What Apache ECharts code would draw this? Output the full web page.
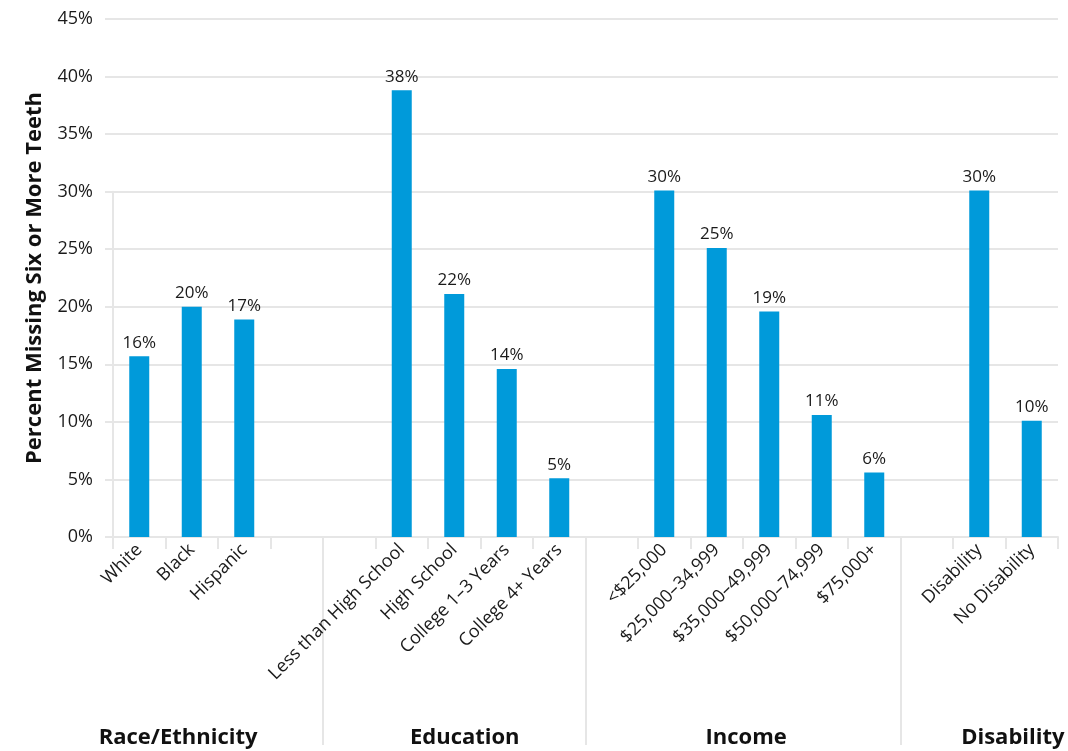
<!DOCTYPE html>
<html>
<head>
<meta charset="utf-8">
<script src="https://cdn.jsdelivr.net/npm/echarts@6/dist/echarts.min.js"></script>
<style>
  html, body { margin: 0; padding: 0; background: #fff; }
  #chart { width: 1068px; height: 751px; }
</style>
</head>
<body>
<div id="chart"></div>
<script>
// Categories (blank strings are spacer slots between groups)
const categories = [
  'White', 'Black', 'Hispanic', '', '',
  'Less than High School', 'High School', 'College 1\u20133 Years', 'College 4+ Years', '',
  '<$25,000', '$25,000\u201334,999', '$35,000\u201349,999', '$50,000\u201374,999', '$75,000+', '',
  'Disability', 'No Disability'
];
// Bar heights (percent)
const values = [
  15.7, 20.0, 18.9, null, null,
  38.8, 21.1, 14.6, 5.1, null,
  30.1, 25.1, 19.6, 10.6, 5.6, null,
  30.1, 10.1
];
// Printed value labels
const valueLabels = [
  '16%', '20%', '17%', '', '',
  '38%', '22%', '14%', '5%', '',
  '30%', '25%', '19%', '11%', '6%', '',
  '30%', '10%'
];
const groupNames = ['Race/Ethnicity', 'Education', 'Income', 'Disability'];
const yTicks = [0, 5, 10, 15, 20, 25, 30, 35, 40, 45];
const yTitle = 'Percent Missing Six or More Teeth';

const FONT = '"Open Sans", "Noto Sans", sans-serif';
const GRID = '#e6e6e6';
const groupLabelPos = [1.24, 6.7, 12.06, 17.14];
const groupBoundaries = [4, 9, 15];

const chart = echarts.init(document.getElementById('chart'), null, { renderer: 'canvas' });
chart.setOption({
  animation: false,
  backgroundColor: '#ffffff',
  textStyle: { fontFamily: FONT },
  grid: [
    { left: 113, right: 10, top: 19, bottom: 214, containLabel: false },
    // partial vertical rule seen at the left edge (from 30% down to the axis)
    { left: 113, right: 10, top: 191.7, bottom: 206, containLabel: false }
  ],
  xAxis: [
    {
      type: 'category',
      gridIndex: 0,
      data: categories,
      boundaryGap: true,
      axisLine: { show: true, lineStyle: { color: GRID, width: 2 } },
      axisTick: { show: true, interval: 0, length: 12, lineStyle: { color: GRID, width: 2 } },
      axisLabel: {
        interval: 0, rotate: 45, margin: 10,
        fontFamily: FONT, fontSize: 18, color: '#1a1a1a'
      },
      splitLine: { show: false }
    },
    {
      type: 'value',
      gridIndex: 0,
      min: 0, max: 18,
      position: 'bottom',
      axisLine: { show: false },
      axisTick: {
        show: true, length: 208, customValues: groupBoundaries,
        lineStyle: { color: GRID, width: 2 }
      },
      axisLabel: {
        show: true, customValues: groupLabelPos, margin: 190,
        fontFamily: FONT, fontSize: 22, fontWeight: 'bold', color: '#111',
        formatter: function (v) {
          const i = groupLabelPos.indexOf(v);
          return i >= 0 ? groupNames[i] : '';
        }
      },
      splitLine: { show: false }
    },
    {
      type: 'value', gridIndex: 1, min: 0, max: 1, show: false
    }
  ],
  yAxis: [
    {
      type: 'value',
      gridIndex: 0,
      min: yTicks[0], max: yTicks[yTicks.length - 1], interval: 5,
      name: yTitle,
      nameLocation: 'middle',
      nameGap: 67,
      nameRotate: 90,
      nameTextStyle: { fontFamily: FONT, fontSize: 22, fontWeight: 'bold', color: '#111' },
      axisLine: { show: false },
      axisTick: { show: true, length: 8, lineStyle: { color: GRID, width: 2 } },
      axisLabel: {
        fontFamily: FONT, fontSize: 18, color: '#1a1a1a', margin: 20,
        formatter: function (v) { return v + '%'; }
      },
      splitLine: { show: true, lineStyle: { color: GRID, width: 2 } }
    },
    {
      type: 'value', gridIndex: 1, min: 0, max: 1,
      axisLine: { show: true, lineStyle: { color: GRID, width: 2 } },
      axisTick: { show: false }, axisLabel: { show: false }, splitLine: { show: false }
    }
  ],
  series: [{
    type: 'bar',
    xAxisIndex: 0,
    yAxisIndex: 0,
    data: values,
    barWidth: 20,
    itemStyle: { color: '#009ADA' },
    label: {
      show: true, position: 'top', distance: 5,
      fontFamily: FONT, fontSize: 17, color: '#1a1a1a',
      formatter: function (p) { return valueLabels[p.dataIndex]; }
    }
  }]
});
</script>
</body>
</html>
